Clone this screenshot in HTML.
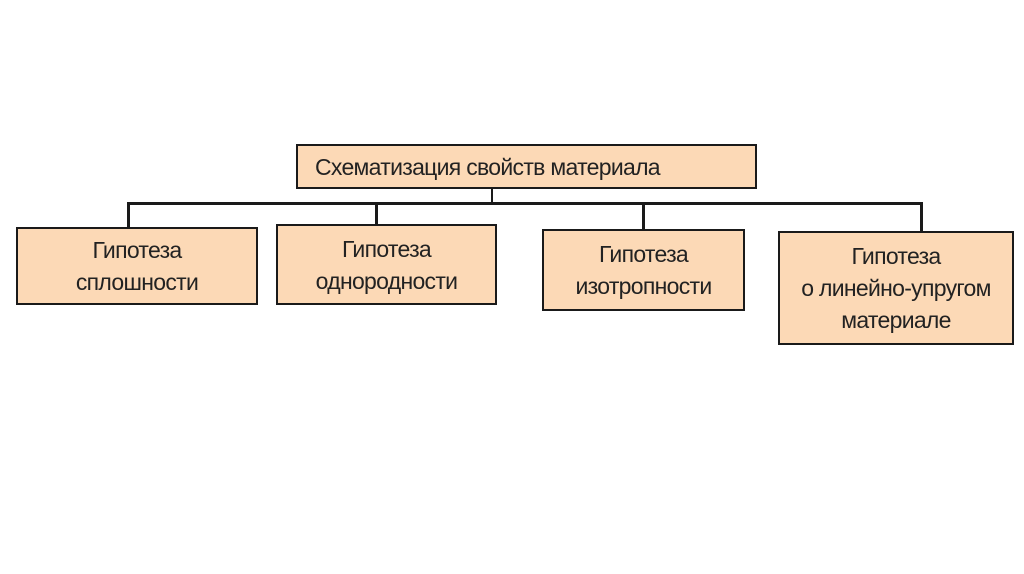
<!DOCTYPE html>
<html><head><meta charset="utf-8"><style>
body{margin:0;width:1024px;height:574px;background:#fff;position:relative;overflow:hidden;font-family:"Liberation Sans Narrow","Liberation Sans",sans-serif;}
.b{position:absolute;background:#fcd9b6;border:2.5px solid #1a1a1a;box-sizing:border-box;display:flex;align-items:center;justify-content:center;text-align:center;font-size:23px;line-height:32px;color:#222;letter-spacing:-0.7px;}
.l{position:absolute;background:#1a1a1a;}
</style></head><body>
<div class="b" style="left:296px;top:144px;width:461px;height:45px;justify-content:flex-start;padding-left:17px;">Схематизация свойств материала</div>
<div class="l" style="left:491px;top:188px;width:2px;height:16px"></div>
<div class="l" style="left:127px;top:202px;width:795px;height:2.5px"></div>
<div class="l" style="left:127px;top:202px;width:2.5px;height:26px"></div>
<div class="l" style="left:375px;top:202px;width:2.5px;height:23px"></div>
<div class="l" style="left:642px;top:202px;width:2.5px;height:28px"></div>
<div class="l" style="left:920px;top:202px;width:2.5px;height:30px"></div>
<div class="b" style="left:16px;top:227px;width:242px;height:78px">Гипотеза<br>сплошности</div>
<div class="b" style="left:276px;top:224px;width:221px;height:81px;align-items:flex-start;padding-top:7px">Гипотеза<br>однородности</div>
<div class="b" style="left:542px;top:229px;width:203px;height:82px">Гипотеза<br>изотропности</div>
<div class="b" style="left:778px;top:231px;width:236px;height:114px">Гипотеза<br>о линейно-упругом<br>материале</div>
</body></html>
